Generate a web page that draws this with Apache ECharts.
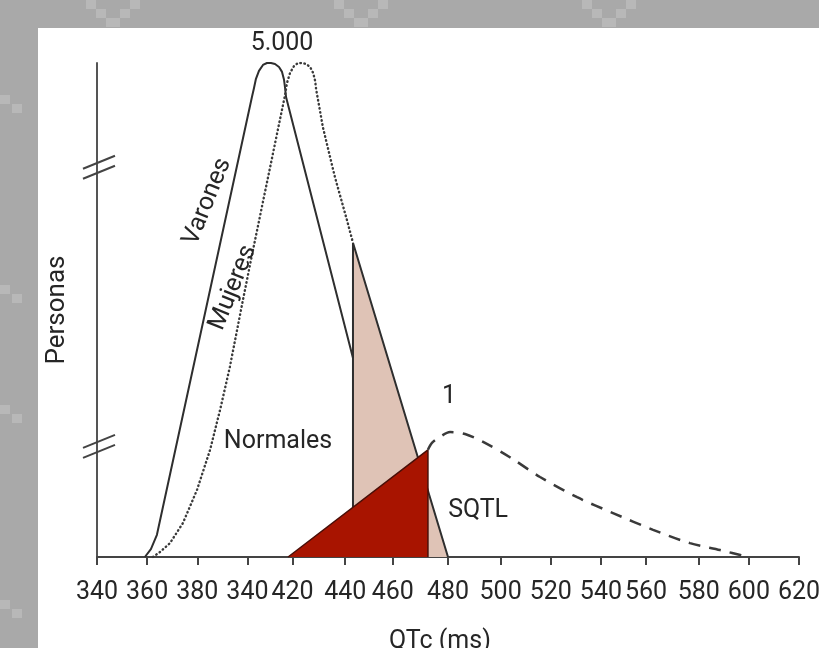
<!DOCTYPE html>
<html>
<head>
<meta charset="utf-8">
<script src="https://cdn.jsdelivr.net/npm/echarts@6/dist/echarts.min.js"></script>
<style>
  html, body { margin: 0; padding: 0; background: #a9a9a9; overflow: hidden; }
  #panel { position: absolute; left: 38px; top: 28px; width: 781px; height: 620px; background: #ffffff; }
  #chart { position: absolute; left: 0; top: 0; width: 819px; height: 648px; }
  .sq { position: absolute; width: 10px; height: 9px; background: #b8b8b8; }
</style>
</head>
<body>
<div id="bg"></div>
<div id="panel"></div>
<div id="chart"></div>
<script>
// ---- Data (QTc in ms, Personas in schematic units 0-100) ----
const tickValues = [340, 360, 380, 400, 418, 439, 458, 480, 501, 521, 541, 559, 580, 600, 620];
const tickLabels = ['340', '360', '380', '340', '420', '440', '460', '480', '500', '520', '540', '560', '580', '600', '620'];

const varones = [
  [359.1, 0], [361.5, 1.6], [363.9, 4.5], [401.8, 93.1], [402.6, 94.9], [403.4, 96.8],
  [404.6, 98.4], [406.2, 99.6], [407.8, 100], [409.4, 100], [411.0, 99.8], [412.6, 99.2],
  [413.8, 98.2], [414.6, 96.6], [415.0, 95.0], [415.4, 93.1], [442.1, 40.3]
];
const mujeres = [
  [362.3, 0], [365.1, 1.0], [369.1, 2.8], [374.3, 6.9], [379.9, 13.6], [385.1, 21.7],
  [389.1, 29.8], [393.0, 38.5], [398.2, 52.0], [402.2, 62.1], [415.0, 93.5], [415.8, 96.0],
  [417.0, 98.0], [418.6, 99.4], [420.2, 100], [421.8, 100], [423.4, 99.8], [425.0, 99.2],
  [426.2, 98.0], [427.0, 96.4], [427.4, 94.7], [430.1, 87.0], [434.9, 76.9], [439.7, 68.2],
  [442.1, 63.6]
];
const normalesTail = [[442.1, 0], [442.1, 63.6], [480.0, 0]];
const sqtlTriangle = [[416.2, 0], [472.0, 21.7], [472.0, 0]];
const sqtlCurve = [
  [472.0, 21.7], [473.6, 23.1], [476.8, 24.3], [480.8, 25.3], [486.8, 24.9], [494.0, 23.3],
  [504.7, 20.2], [516.7, 16.2], [531.5, 12.1], [545.8, 8.9], [561.8, 5.5], [576.5, 2.8],
  [588.5, 1.4], [599.7, 0]
];
const annotations = [
  { text: '5.000', x: 413.8, y: 103.8, rotate: 0 },
  { text: 'Varones', x: 384.0, y: 71.9, rotate: 68 },
  { text: 'Mujeres', x: 394.2, y: 54.5, rotate: 68 },
  { text: 'Normales', x: 412.2, y: 23.3, rotate: 0 },
  { text: '1', x: 480.4, y: 32.4, rotate: 0 },
  { text: 'SQTL', x: 492.0, y: 9.3, rotate: 0 }
];
const breakValues = [79, 22.5];

// decorative background squares (page backdrop, not chart data)
(function () {
  const bg = document.getElementById('bg');
  const spots = [];
  [108, 356, 604].forEach(cx => {
    for (let k = 0; k < 3; k++) {
      spots.push([cx - 22 + k * 10, k * 9]);
      spots.push([cx + 22 - k * 10, k * 9]);
    }
  });
  [[0, 95], [12, 104], [0, 285], [12, 294], [0, 405], [12, 414], [0, 600], [12, 609]].forEach(p => spots.push(p));
  spots.forEach(p => {
    const d = document.createElement('div');
    d.className = 'sq';
    d.style.left = p[0] + 'px';
    d.style.top = p[1] + 'px';
    bg.appendChild(d);
  });
})();

const FONT = "Roboto, 'Liberation Sans', sans-serif";
const INK = '#262626';

const chart = echarts.init(document.getElementById('chart'), null, { renderer: 'canvas' });

const option = {
  backgroundColor: 'transparent',
  animation: false,
  grid: { left: 97, right: 20, top: 63, bottom: 91, containLabel: false, outerBoundsMode: 'none' },
  xAxis: {
    type: 'value', min: 340, max: 620,
    name: 'QTc (ms)', nameLocation: 'middle', nameGap: 72,
    nameTextStyle: { fontFamily: FONT, fontSize: 25, color: INK, padding: [0, 16, 0, 0] },
    axisLine: { show: true, lineStyle: { color: '#444', width: 2 } },
    axisTick: { show: true, customValues: tickValues, length: 8, lineStyle: { color: '#444', width: 2 } },
    axisLabel: {
      show: true, customValues: tickValues, margin: 23, showMinLabel: true, showMaxLabel: true,
      fontFamily: FONT, fontSize: 25, color: INK,
      formatter: function (v) {
        const i = tickValues.indexOf(v);
        return i >= 0 ? tickLabels[i] : '';
      }
    },
    splitLine: { show: false }
  },
  yAxis: {
    type: 'value', min: 0, max: 100,
    name: 'Personas', nameLocation: 'middle', nameGap: 27, nameRotate: 90,
    nameTextStyle: { fontFamily: FONT, fontSize: 26, color: INK },
    axisLine: { show: true, lineStyle: { color: '#555', width: 2 } },
    axisTick: { show: false },
    axisLabel: { show: false },
    splitLine: { show: false }
  },
  series: [
    {
      name: 'Normales tail', type: 'line', data: normalesTail, symbol: 'none', z: 2,
      lineStyle: { color: '#2e2e2e', width: 2 },
      areaStyle: { color: '#dfc3b6', opacity: 1 }
    },
    {
      name: 'SQTL', type: 'line', data: sqtlTriangle, symbol: 'none', z: 3,
      lineStyle: { color: '#4a0f08', width: 1.5 },
      areaStyle: { color: '#a81400', opacity: 1 }
    },
    {
      name: 'Varones', type: 'line', data: varones, symbol: 'none', smooth: false, z: 4,
      lineStyle: { color: '#2e2e2e', width: 2, join: 'round' }
    },
    {
      name: 'Mujeres', type: 'line', data: mujeres, symbol: 'none', smooth: false, z: 4,
      lineStyle: { color: '#3a3a3a', width: 2.4, type: [0.5, 3.6], cap: 'round' }
    },
    {
      name: 'SQTL curve', type: 'line', data: sqtlCurve, symbol: 'none', smooth: 0.3, z: 4,
      lineStyle: { color: '#3a3a3a', width: 2.5, type: [12, 9] }
    },
    {
      name: 'labels', type: 'scatter', clip: false, symbolSize: 0, z: 6,
      itemStyle: { opacity: 1 },
      data: annotations.map(a => ({
        value: [a.x, a.y],
        label: {
          show: true, position: 'inside', formatter: a.text, rotate: a.rotate,
          fontFamily: FONT, fontSize: 25, color: INK, opacity: 1
        }
      })),
      silent: true
    }
  ]
};
chart.setOption(option);

// axis break marks "//" on the y axis
const marks = [];
breakValues.forEach(v => {
  const p = chart.convertToPixel({ gridIndex: 0 }, [340, v]);
  const x = p[0], y = p[1];
  [0, 10].forEach(off => {
    marks.push({
      type: 'line',
      shape: { x1: x - 14, y1: y + 2 + off, x2: x + 18, y2: y - 11 + off },
      style: { stroke: '#444', lineWidth: 2 },
      z: 10
    });
  });
});
chart.setOption({ graphic: marks });
</script>
</body>
</html>
